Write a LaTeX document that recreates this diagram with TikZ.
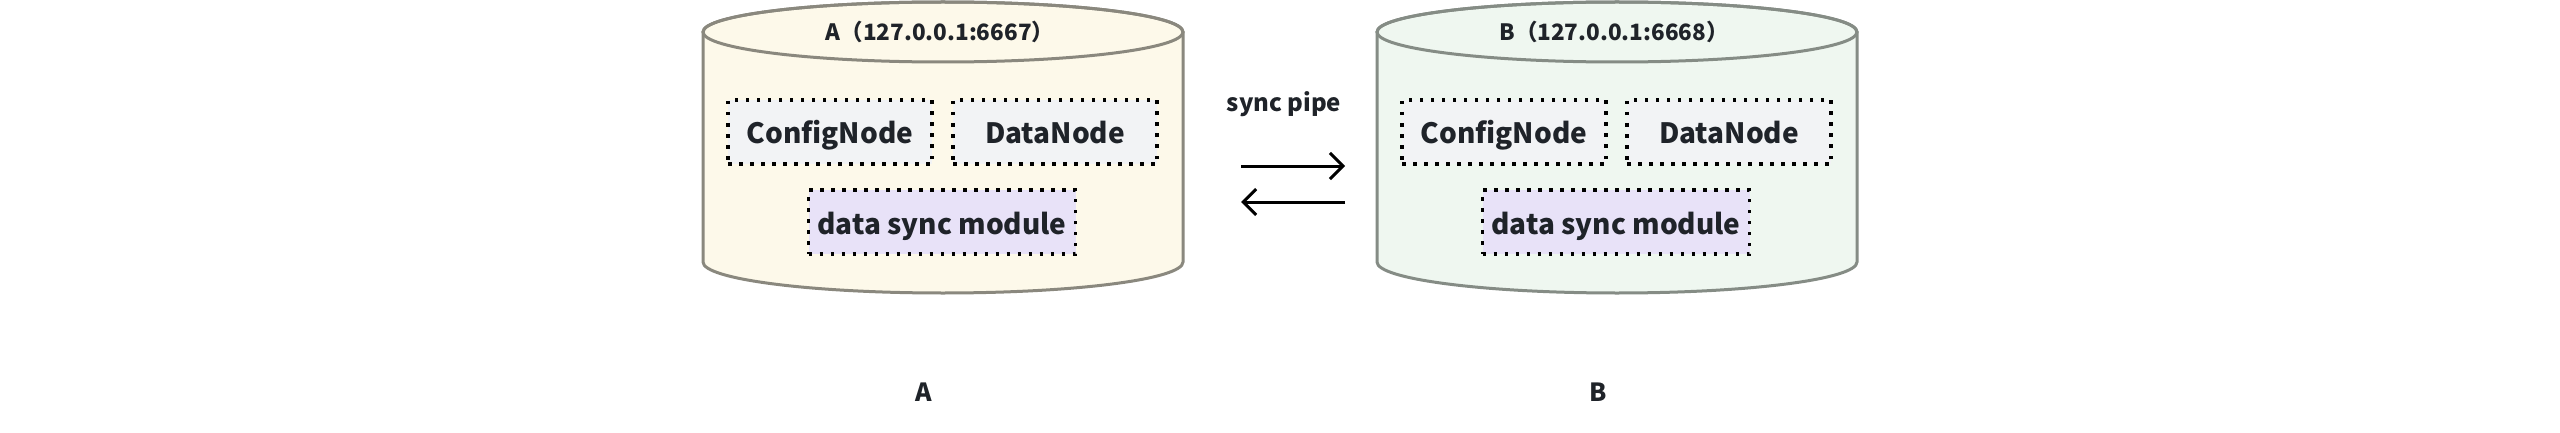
\documentclass[tikz,border=0pt]{standalone}
\usepackage{fontspec}
\setmainfont{Noto Sans CJK SC}
\usepackage{tikz}
\usetikzlibrary{arrows.meta}

\definecolor{cylA}{HTML}{FDF9EA}
\definecolor{cylB}{HTML}{EFF7F0}
\definecolor{lineA}{HTML}{8A887E}
\definecolor{lineB}{HTML}{858C85}
\definecolor{boxgray}{HTML}{F2F3F5}
\definecolor{boxsync}{HTML}{E8E2F8}
\definecolor{ink}{HTML}{1F2329}

\tikzset{
  part/.style={draw=black, line width=3.5pt, dash pattern=on 3.5pt off 7.5pt,
    fill=boxgray, minimum width=204pt, minimum height=64pt, inner sep=0pt,
    text height=24pt, text depth=0pt,
    text=ink, font=\bfseries\fontsize{28}{30}\selectfont},
  syncmod/.style={part, fill=boxsync, minimum width=267pt},
  cyltitle/.style={text=ink, text height=17pt, text depth=0pt,
    font=\bfseries\fontsize{22.5}{24}\selectfont},
  hostlabel/.style={text=ink, font=\bfseries\fontsize{25}{28}\selectfont},
  pipe/.style={line width=3pt, -{Straight Barb[length=13pt,width=26pt,line width=3pt]}}
}

\begin{document}
\begin{tikzpicture}[x=1pt,y=1pt]
   \fill[white] (0,0) rectangle (2560,432);
   \useasboundingbox (0,0) rectangle (2560,432);
   % two hosts
   \foreach \cx/\cf/\cl/\nm/\port/\lx in {943/cylA/lineA/A/6667/924, 1617/cylB/lineB/B/6668/1598} {
       \draw[line width=3pt, draw=\cl, fill=\cf] (\cx-240,400) -- (\cx-240,170)
           arc[start angle=180, end angle=360, x radius=240, y radius=31]
           -- (\cx+240,400) arc[start angle=0, end angle=180, x radius=240, y radius=30] -- cycle;
       \draw[line width=3pt, draw=\cl] (\cx,400) ellipse[x radius=240, y radius=30];
       \node[cyltitle] (title\nm) at (\cx-3,400) {\nm（127.0.0.1:\port）};
       \node[part] (cfg\nm) at (\cx-113,300) {ConfigNode};
       \node[part] (dn\nm) at (\cx+112,300) {DataNode};
       \node[syncmod] (sync\nm) at (\cx-1,210) {data sync module};
       \node[hostlabel] (host\nm) at (\lx,40) {\nm};
   }
   \node[text=ink, font=\bfseries\fontsize{24}{26}\selectfont] (pipelbl) at (1284,328) {sync pipe};
   \coordinate (pipeAo) at (1241,266);
   \coordinate (pipeBi) at (1345,266);
   \coordinate (pipeBo) at (1345,230);
   \coordinate (pipeAi) at (1241,230);
   \draw[pipe] (pipeAo) -- (pipeBi);
   \draw[pipe] (pipeBo) -- (pipeAi);
\end{tikzpicture}
\end{document}
